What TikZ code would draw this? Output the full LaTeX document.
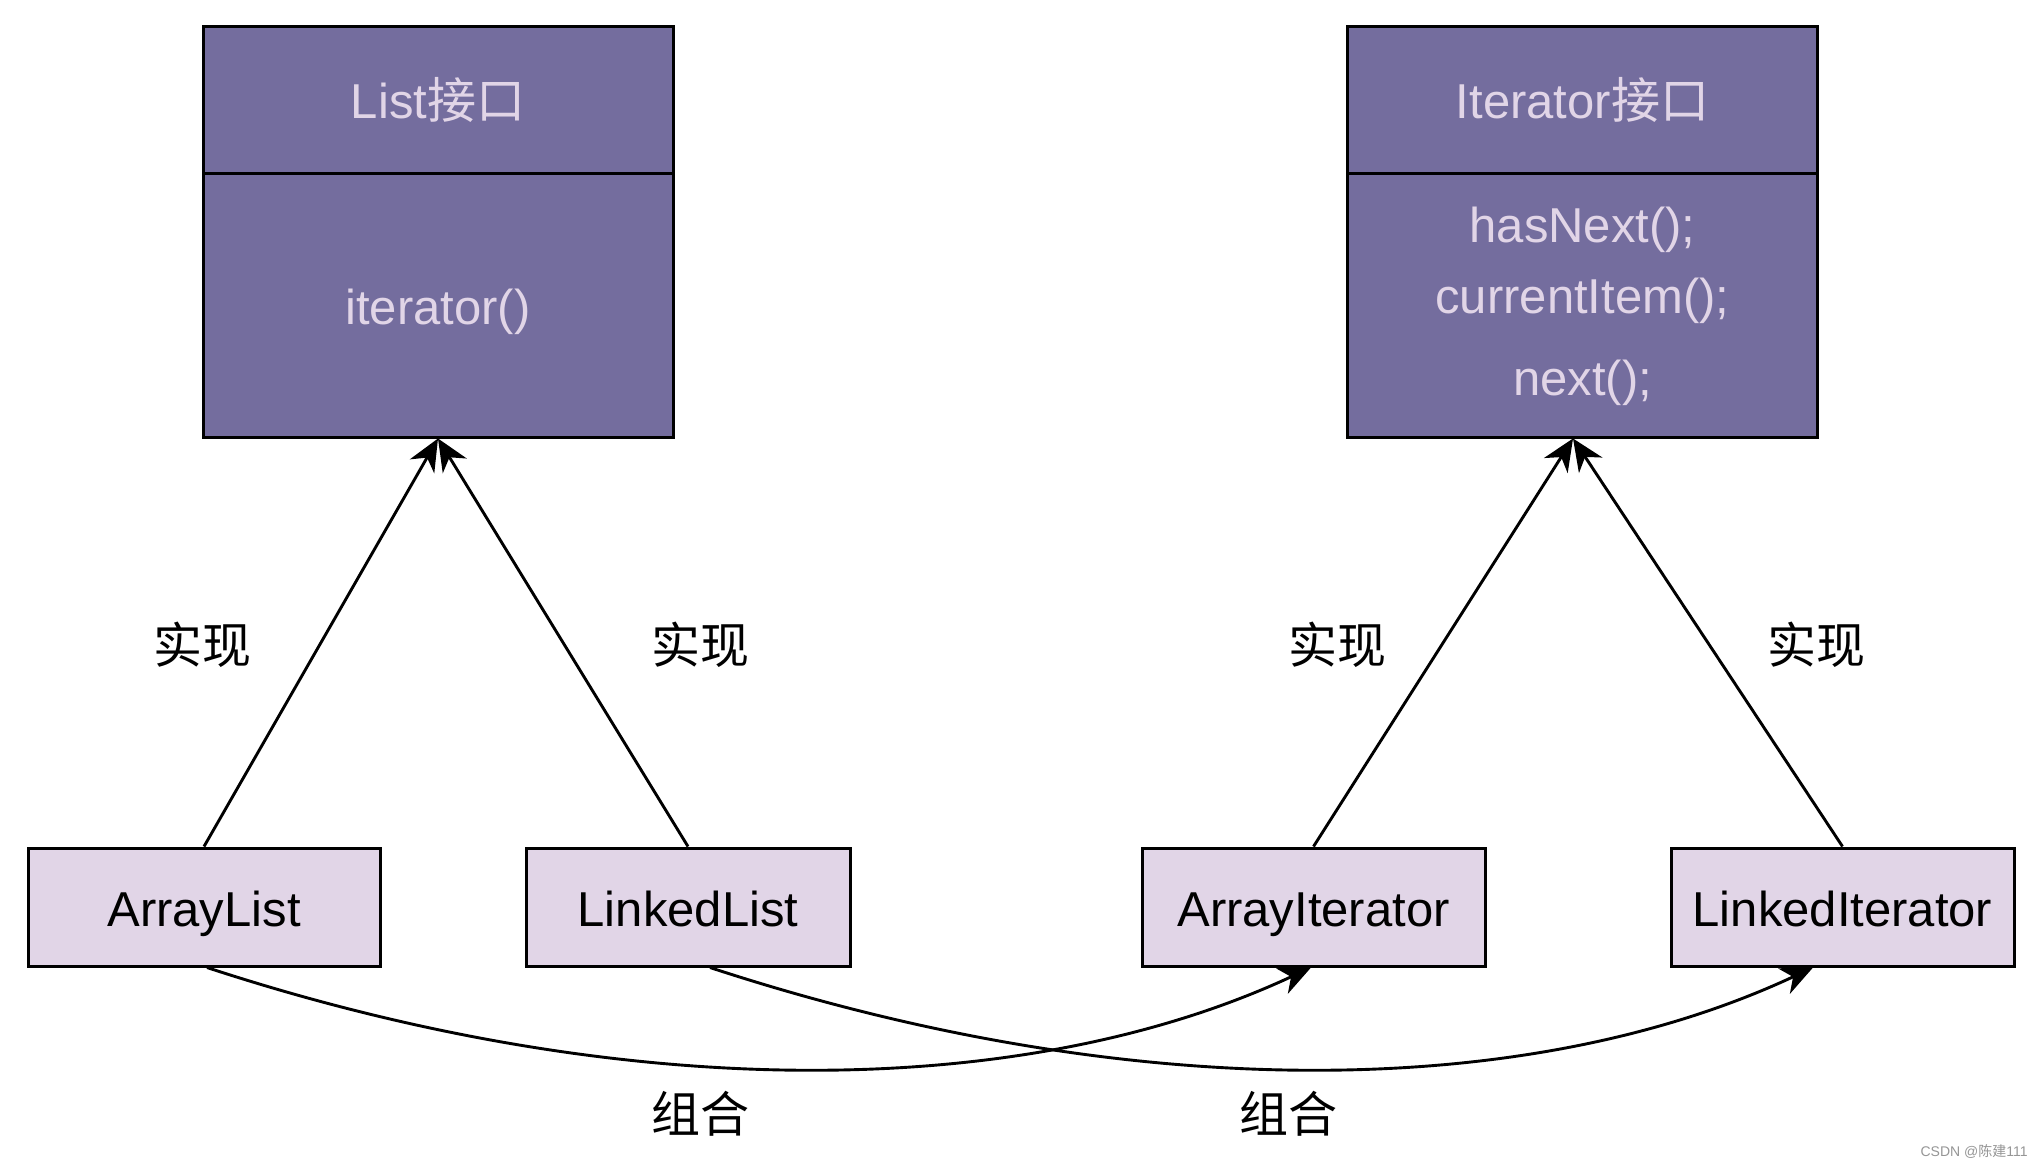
\documentclass[tikz,border=0pt]{standalone}
\usepackage{fontspec}
\setmainfont{Liberation Sans}
\newfontfamily\cjk{Noto Sans CJK SC}
\usetikzlibrary{arrows.meta}
\definecolor{hdr}{RGB}{116,109,158}
\definecolor{lite}{RGB}{225,213,231}
\definecolor{wmgray}{RGB}{150,150,150}
\begin{document}
\begin{tikzpicture}[x=0.5pt,y=-0.5pt,
 hdrbox/.style={draw=black,line width=1.5pt,fill=hdr,text=lite,font=\fontsize{24.5}{29}\selectfont,inner sep=0pt,minimum width=235pt},
 implbox/.style={draw=black,line width=1.5pt,fill=lite,font=\fontsize{24.5}{29}\selectfont,inner sep=0pt,minimum height=59pt,text height=19.6pt,text depth=0pt},
 conn/.style={line width=1.45pt,-{Stealth[length=16pt,width=14pt,inset=5pt]}},
 lbl/.style={font=\cjk\fontsize{24.5}{29}\selectfont,inner sep=0pt}]
\useasboundingbox (0,0) rectangle (2044,1169);
\fill[white] (0,0) rectangle (2044,1169);

% interface boxes
\node[hdrbox,minimum height=73.5pt,text height=19pt,text depth=0pt] (listT) at (438,99.5) {List{\cjk 接口}};
\node[hdrbox,minimum height=132pt,text height=19.6pt,text depth=0pt] (listB) at (438,305) {iterator()};
\node[hdrbox,minimum height=73.5pt,text height=19pt,text depth=0pt] (itT) at (1582.5,99.5) {Iterator{\cjk 接口}};
\node[hdrbox,minimum height=132pt] (itB) at (1582.5,305) {};
\node[font=\fontsize{24.5}{29}\selectfont,text=lite,align=center,inner sep=0pt] (itM) at (1582.5,306) {hasNext();\\[6.5pt]currentItem();\\[12pt]next();};

% implementation boxes
\node[implbox,minimum width=176pt] (al) at (204,907) {ArrayList};
\node[implbox,minimum width=162pt] (ll) at (688,907) {LinkedList};
\node[implbox,minimum width=171.5pt] (ai) at (1313.5,907) {ArrayIterator};
\node[implbox,minimum width=171.5pt] (li) at (1842.5,907) {LinkedIterator};

% realisation connectors
\draw[conn] (al.north) -- (listB.south);
\draw[conn] (ll.north) -- (listB.south);
\draw[conn] (ai.north) -- ([xshift=-4.75pt]itB.south);
\draw[conn] (li.north) -- ([xshift=-4.75pt]itB.south);

% composition connectors
\draw[conn] ([xshift=1.5pt]al.south) .. controls (620,1103) and (1020,1103) .. ([xshift=-1.25pt]ai.south);
\draw[conn] ([xshift=11pt]ll.south) .. controls (1123,1103) and (1523,1103) .. ([xshift=-14.75pt]li.south);

% labels
\node[lbl] (r1) at (202,645) {实现};
\node[lbl] (r2) at (700,645) {实现};
\node[lbl] (r3) at (1337,645) {实现};
\node[lbl] (r4) at (1816,645) {实现};
\node[lbl] (c1) at (700,1114) {组合};
\node[lbl] (c2) at (1288,1114) {组合};

\node[font=\fontsize{7}{8}\selectfont,text=wmgray,anchor=east,inner sep=0pt] (wm) at (2028,1152) {CSDN @{\cjk 陈建}111};
\end{tikzpicture}
\end{document}
